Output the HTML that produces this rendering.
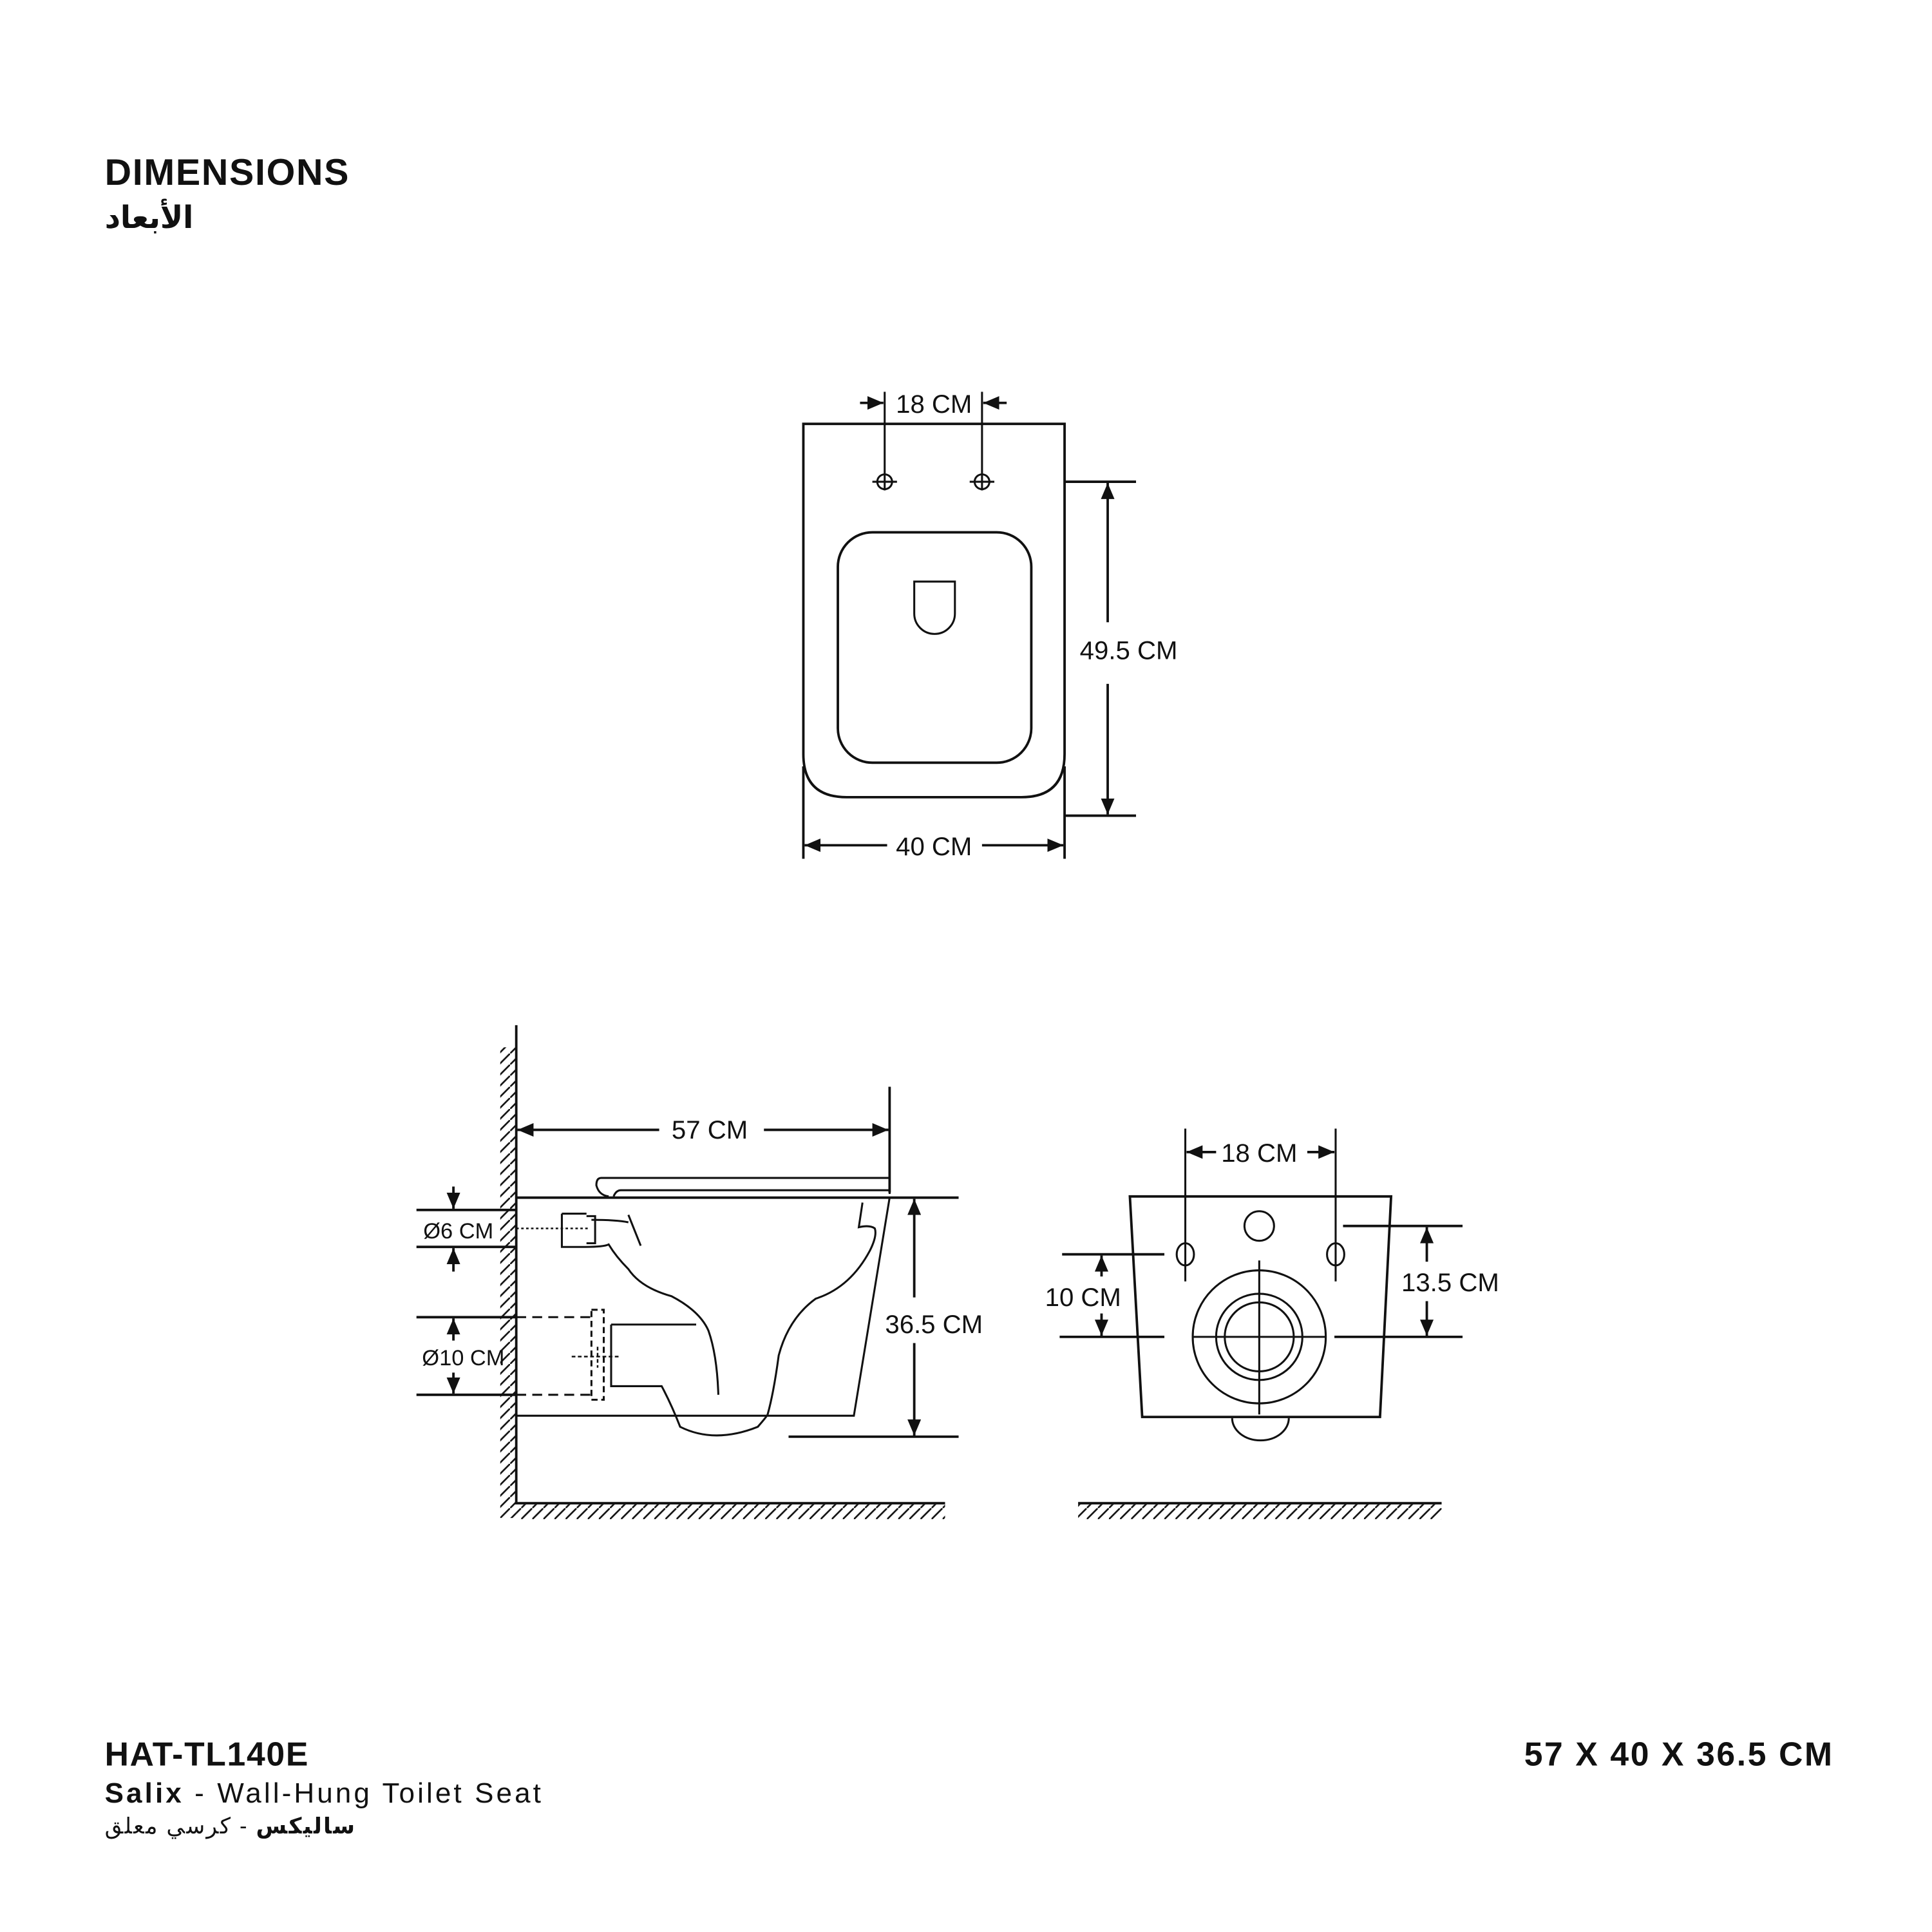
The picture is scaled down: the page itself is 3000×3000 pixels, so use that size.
<!DOCTYPE html>
<html><head><meta charset="utf-8">
<style>
html,body{margin:0;padding:0;background:#fff;}
svg{display:block;width:3000px;height:3000px;}
text{font-family:"Liberation Sans","Noto Sans CJK SC","DejaVu Sans",sans-serif;fill:#111;}
</style></head>
<body>
<svg viewBox="0 0 1568 1568" xmlns="http://www.w3.org/2000/svg">
<defs>
<marker id="a" viewBox="0 0 10 10" refX="10" refY="5" markerWidth="13" markerHeight="11" orient="auto-start-reverse" markerUnits="userSpaceOnUse" preserveAspectRatio="none"><path d="M0,0L10,5L0,10z" fill="#111"/></marker>
<pattern id="hw" width="9" height="9" patternUnits="userSpaceOnUse"><path d="M0,9L9,0" stroke="#111" stroke-width="1.4"/></pattern>
</defs>
<style>
.l{stroke:#111;stroke-width:2;fill:none}
.t{stroke:#111;stroke-width:1.6;fill:none}
.ar{stroke:#111;stroke-width:2;fill:none;marker-end:url(#a)}
</style>

<text x="85" y="150" font-size="30" font-weight="bold" textLength="198">DIMENSIONS</text>
<text x="85" y="185" font-size="25" font-weight="bold" font-family="DejaVu Sans,sans-serif" textLength="72">الأبعاد</text>

<!-- TOP VIEW -->
<path class="l" d="M652,344 H864 V612 Q864,647 829,647 H687 Q652,647 652,612 Z"/>
<rect class="l" x="680" y="432" width="157" height="187" rx="28"/>
<path class="t" d="M742,472 H775 V498 A16.5,16.5 0 0 1 742,498 Z"/>
<g class="t">
<circle cx="718" cy="391" r="6"/><path d="M708,391H728M718,318V398"/>
<circle cx="797" cy="391" r="6"/><path d="M787,391H807M797,318V398"/>
</g>
<path class="ar" d="M698,327H717"/><path class="ar" d="M817,327H798"/>
<text x="758" y="335" font-size="21" text-anchor="middle">18 CM</text>
<path class="l" d="M864,391H922M864,662H922"/>
<path class="ar" d="M899,505V392"/><path class="ar" d="M899,555V661"/>
<text x="916" y="535" font-size="21" text-anchor="middle">49.5 CM</text>
<path class="l" d="M652,622V697M864,622V697"/>
<path class="ar" d="M720,686H653"/><path class="ar" d="M797,686H863"/>
<text x="758" y="694" font-size="21" text-anchor="middle">40 CM</text>

<!-- SIDE VIEW -->
<rect x="406" y="850" width="13" height="382" fill="url(#hw)"/>
<path class="l" d="M419,832V1220H767"/>
<rect x="419" y="1221" width="348" height="12" fill="url(#hw)"/>
<path class="l" d="M722,882V968"/>
<path class="ar" d="M535,917H420"/><path class="ar" d="M620,917H721"/>
<text x="576" y="924" font-size="21" text-anchor="middle">57 CM</text>
<path class="t" d="M722,956H488Q484,956 484,962Q486,970 494,971 M722,956V969 M722,966H504Q500,966 498,971"/>
<path class="l" d="M419,972H778"/>
<path class="t" d="M722,972L693,1149H419"/>
<path class="t" d="M700,976L697,996Q706,994 710,997Q712,1003 706,1015Q690,1045 662,1054Q640,1070 632,1100Q628,1130 623,1148"/>
<path class="t" d="M510,986L520,1011"/>
<path class="t" d="M456,985V1012H475Q490,1012 494,1010Q500,1020 510,1030Q520,1045 545,1052Q568,1064 575,1080Q582,1100 583,1132"/>
<path class="t" d="M456,985H476M476,987H483V1009H476 M480,990Q500,990 510,992"/>
<path class="t" d="M496,1075H565 M496,1075V1125H537Q545,1140 552,1158Q580,1172 615,1158Q622,1150 623,1148"/>
<path d="M419,997H478" stroke="#111" stroke-width="1.3" stroke-dasharray="2,2"/>
<rect x="480" y="1063" width="10" height="73" fill="none" stroke="#111" stroke-width="1.6" stroke-dasharray="5,3"/>
<path d="M419,1069H480M419,1132H480" stroke="#111" stroke-width="1.6" stroke-dasharray="8,5"/>
<path d="M464,1101H502M485,1093V1110" stroke="#111" stroke-width="1.3" stroke-dasharray="3,2"/>
<path class="l" d="M640,1166H778"/>
<path class="ar" d="M742,1053V973"/><path class="ar" d="M742,1090V1165"/>
<text x="758" y="1082" font-size="21" text-anchor="middle">36.5 CM</text>
<path class="l" d="M338,982H419M338,1012H419"/>
<path class="ar" d="M368,963V981"/><path class="ar" d="M368,1032V1013"/>
<text x="372" y="1005" font-size="18" text-anchor="middle">Ø6 CM</text>
<path class="l" d="M338,1069H419M338,1132H419"/>
<path class="ar" d="M368,1088V1070"/><path class="ar" d="M368,1114V1131"/>
<text x="376" y="1108" font-size="18" text-anchor="middle">Ø10 CM</text>

<!-- FRONT VIEW -->
<path class="l" d="M917,971H1129L1120,1150H927Z"/>
<path class="t" d="M1000,1151A23,18 0 0 0 1046,1151"/>
<circle class="t" cx="1022" cy="995" r="12"/>
<ellipse class="t" cx="962" cy="1018" rx="7" ry="9"/>
<ellipse class="t" cx="1084" cy="1018" rx="7" ry="9"/>
<path class="t" d="M962,916V1040M1084,916V1040"/>
<circle class="t" cx="1022" cy="1085" r="54"/>
<circle class="t" cx="1022" cy="1085" r="35"/>
<circle class="t" cx="1022" cy="1085" r="28"/>
<path class="t" d="M1022,1023V1148M968,1085H1076"/>
<path class="ar" d="M987,935H963"/><path class="ar" d="M1061,935H1083"/>
<text x="1022" y="943" font-size="21" text-anchor="middle">18 CM</text>
<path class="l" d="M862,1018H945M860,1085H945M1090,995H1187M1083,1085H1187"/>
<path class="ar" d="M894,1036V1019"/><path class="ar" d="M894,1066V1084"/>
<text x="879" y="1060" font-size="21" text-anchor="middle">10 CM</text>
<path class="ar" d="M1158,1024V996"/><path class="ar" d="M1158,1056V1084"/>
<text x="1177" y="1048" font-size="21" text-anchor="middle">13.5 CM</text>
<path class="l" d="M875,1220H1170"/>
<rect x="875" y="1221" width="295" height="12" fill="url(#hw)"/>

<!-- Footer -->
<text x="85" y="1433" font-size="27" font-weight="bold" textLength="165">HAT-TL140E</text>
<text x="85" y="1463" font-size="23" textLength="354"><tspan font-weight="bold">Salix</tspan> - Wall-Hung Toilet Seat</text>
<text x="85" y="1488" font-size="18" font-family="DejaVu Sans,sans-serif" textLength="203"><tspan font-weight="bold">ساليكس</tspan> - كرسي معلق</text>
<text x="1487" y="1433" font-size="27" font-weight="bold" text-anchor="end" textLength="250">57 X 40 X 36.5 CM</text>
</svg>
</body></html>
